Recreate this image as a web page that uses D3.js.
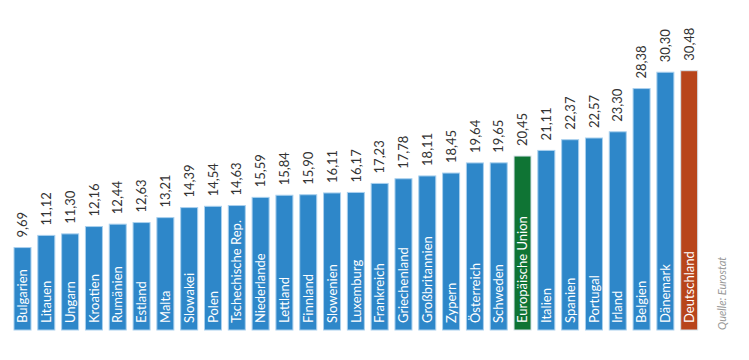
<!DOCTYPE html>
<html>
<head>
<meta charset="utf-8">
<script src="https://cdn.jsdelivr.net/npm/d3@7"></script>
<style>
  body { margin: 0; background: #fff; }
  svg { display: block; font-family: Lato, "Open Sans", sans-serif; }
</style>
</head>
<body>
<div id="chart"></div>
<script>
const countries = ['Bulgarien', 'Litauen', 'Ungarn', 'Kroatien', 'Rumänien', 'Estland', 'Malta', 'Slowakei', 'Polen',
  'Tschechische Rep.', 'Niederlande', 'Lettland', 'Finnland', 'Slowenien', 'Luxemburg', 'Frankreich', 'Griechenland',
  'Großbritannien', 'Zypern', 'Österreich', 'Schweden', 'Europäische Union', 'Italien', 'Spanien', 'Portugal',
  'Irland', 'Belgien', 'Dänemark', 'Deutschland'];
const values = [9.69, 11.12, 11.30, 12.16, 12.44, 12.63, 13.21, 14.39, 14.54, 14.63, 15.59, 15.84, 15.90, 16.11,
  16.17, 17.23, 17.78, 18.11, 18.45, 19.64, 19.65, 20.45, 21.11, 22.37, 22.57, 23.30, 28.38, 30.30, 30.48];
const highlight = { 'Europäische Union': '#0f7434', 'Deutschland': '#b8451b' };
const source = 'Quelle: Eurostat';

const width = 749, height = 360;
const data = countries.map((c, i) => ({ country: c, value: values[i] }));

const svg = d3.select('#chart').append('svg')
  .attr('width', width)
  .attr('height', height);

// 29 bars, step ~23.8px, bar ~17px wide
const x = d3.scaleBand()
  .domain(countries)
  .range([10.6, 701.1])
  .paddingInner(0.286)
  .paddingOuter(0.143);

const y = d3.scaleLinear()
  .domain([0, 30.48])
  .range([330, 70.7]);

const fmt = v => d3.format('.2f')(v).replace('.', ',');

// bars
svg.selectAll('rect.bar')
  .data(data)
  .enter()
  .append('rect')
  .attr('class', 'bar')
  .attr('x', d => x(d.country))
  .attr('y', d => y(d.value))
  .attr('width', x.bandwidth())
  .attr('height', d => y(0) - y(d.value))
  .attr('fill', d => highlight[d.country] || '#2e87c9')
  .attr('stroke', d => highlight[d.country] ? '#d7e3ea' : '#a9d0ee')
  .attr('stroke-width', 1);

// country names inside the bars
svg.selectAll('text.name')
  .data(data)
  .enter()
  .append('text')
  .attr('class', 'name')
  .attr('transform', d => `translate(${x(d.country) + x.bandwidth() / 2},${y(0) - 7}) rotate(-90)`)
  .attr('dy', '0.36em')
  .attr('fill', '#fff')
  .style('font-size', '13px')
  .text(d => d.country);

// values above the bars
svg.selectAll('text.value')
  .data(data)
  .enter()
  .append('text')
  .attr('class', 'value')
  .attr('transform', d => `translate(${x(d.country) + x.bandwidth() / 2},${y(d.value) - 10}) rotate(-90)`)
  .attr('dy', '0.36em')
  .attr('fill', '#333')
  .style('font-size', '13px')
  .text(d => fmt(d.value));

svg.append('text')
  .attr('transform', `translate(722,330) rotate(-90)`)
  .attr('dy', '0.36em')
  .attr('fill', '#999')
  .style('font-size', '11px')
  .style('font-style', 'italic')
  .text(source);
</script>
</body>
</html>
